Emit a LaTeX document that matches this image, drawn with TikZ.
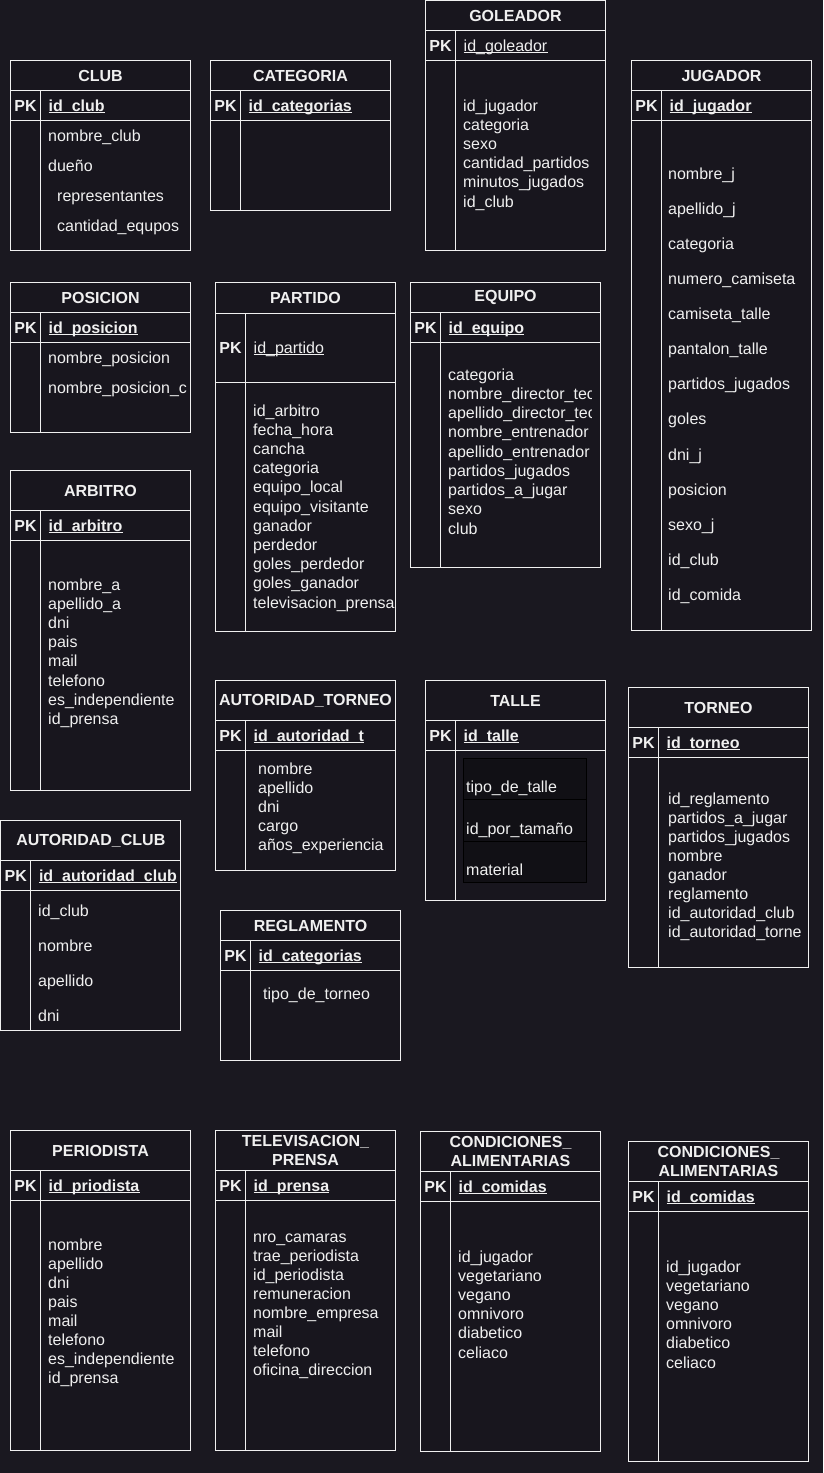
\documentclass[tikz,border=0pt]{standalone}
\usepackage{fontspec}
\setmainfont{Liberation Sans}
\definecolor{bgc}{HTML}{1A1820}
\definecolor{tblc}{HTML}{18161E}
\definecolor{lnc}{HTML}{F0F0F0}
\definecolor{txc}{HTML}{F0F0F0}
\definecolor{innc}{HTML}{111015}
\newcommand{\dfs}{\fontsize{16}{19.5}\selectfont}
\tikzset{
  ln/.style={draw=lnc, line width=1pt},
  tbl/.style={fill=tblc, inner sep=0pt, outer sep=0pt, draw=none},
  ttl/.style={font=\dfs\bfseries, text=txc, inner sep=0pt, align=center},
  fld/.style={anchor=west, inner sep=0pt, text height=12.5pt, text depth=1.5pt, text=txc, font=\dfs},
  pkl/.style={fld, anchor=center, font=\dfs\bfseries},
  pkn/.style={fld, font=\dfs\bfseries},
  innbox/.style={fill=innc, draw=black, line width=1pt}
}
\newcommand{\ertab}[9]{%
  \node[tbl, minimum width=#4pt, minimum height=#7pt, anchor=north west] (#1) at (#2,#3) {};
  \draw[ln] (#2,#3+#5) -- ++(#4,0);
  \draw[ln] (#2,#3+#5+#6) -- ++(#4,0);
  \draw[ln] (#2+30,#3+#5) -- (#2+30,#3+#7);
  \draw[ln] (#1.north west) rectangle (#1.south east);
  \node[ttl] (#1-t) at (#2+#4/2,#3+#5/2) {#8};
  \node[pkl] (#1-pk) at (#2+15,#3+#5+#6/2) {PK};
  \node[pkn] (#1-id) at (#2+38,#3+#5+#6/2) {#9};
  \draw[draw=txc, line width=0.9pt] ([yshift=0.4pt]#1-id.south west) -- ([yshift=0.4pt]#1-id.south east);
}
\newcommand{\flds}[5]{%
  \foreach \mytxt [count=\myi from 0] in {#5} {\node[fld] (#1-\myi) at (#2,{#3+\myi*#4}) {\mytxt};}
}
\begin{document}
\begin{tikzpicture}[x=1pt, y=-1pt]
\fill[bgc] (0,0) rectangle (823,1473);
\useasboundingbox (0,0) rectangle (823,1473);

% CLUB
\ertab{club}{10.5}{60.5}{180}{30}{30}{190}{CLUB}{id\_club}
\node[fld] (club-f0) at (48,135.5) {nombre\_club};
\node[fld] (club-f1) at (48,165.5) {dueño};
\node[fld] (club-f2) at (57,195.5) {representantes};
\node[fld] (club-f3) at (57,225.5) {cantidad\_equpos};

% CATEGORIA
\ertab{cat}{210.5}{60.5}{180}{30}{30}{150}{CATEGORIA}{id\_categorias}

% GOLEADOR
\ertab{gol}{425.5}{0.5}{180}{30}{30}{249.5}{GOLEADOR}{\mdseries id\_goleador}
\flds{gol}{463}{106}{19.1}{id\_jugador,categoria,sexo,cantidad\_partidos,minutos\_jugados,id\_club}

% JUGADOR
\ertab{jug}{631.5}{60.5}{180}{30}{30}{570}{JUGADOR}{id\_jugador}
\flds{jug}{668}{173.5}{35.13}{nombre\_j,apellido\_j,categoria,numero\_camiseta,camiseta\_talle,pantalon\_talle,partidos\_jugados,goles,dni\_j,posicion,sexo\_j,id\_club,id\_comida}

% POSICION
\ertab{pos}{10.5}{282.5}{180}{30}{30}{150}{POSICION}{id\_posicion}
\begin{scope}
\clip (10,342) rectangle (188,432);
\flds{pos}{48}{357.5}{30}{nombre\_posicion,nombre\_posicion\_c}
\end{scope}

% PARTIDO
\ertab{par}{215.5}{282.5}{180}{31}{69}{349}{PARTIDO}{\mdseries id\_partido}
\flds{par}{253}{410.5}{19.2}{id\_arbitro,fecha\_hora,cancha,categoria,equipo\_local,equipo\_visitante,ganador,perdedor,goles\_perdedor,goles\_ganador,televisacion\_prensa}

% EQUIPO
\ertab{eq}{410.5}{282.5}{190}{30}{30}{285}{EQUIPO}{id\_equipo}
\begin{scope}
\clip (410,342) rectangle (591,567);
\flds{eq}{448}{374.5}{19.25}{categoria,nombre\_director\_tecnico,apellido\_director\_tecnico,nombre\_entrenador,apellido\_entrenador,partidos\_jugados,partidos\_a\_jugar,sexo,club}
\end{scope}

% ARBITRO
\ertab{arb}{10.5}{470.5}{180}{40}{30}{320}{ARBITRO}{id\_arbitro}
\flds{arb}{48}{584.5}{19.2}{nombre\_a,apellido\_a,dni,pais,mail,telefono,es\_independiente,id\_prensa}

% AUTORIDAD_TORNEO
\ertab{at}{215.5}{680.5}{180}{40}{30}{190}{AUTORIDAD\_TORNEO}{id\_autoridad\_t}
\flds{at}{258}{768.5}{19}{nombre,apellido,dni,cargo,años\_experiencia}

% AUTORIDAD_CLUB
\ertab{ac}{0.8}{820.5}{180}{40}{30}{210}{AUTORIDAD\_CLUB}{id\_autoridad\_club}
\flds{ac}{38}{910.5}{35.15}{id\_club,nombre,apellido,dni}

% REGLAMENTO
\ertab{reg}{220.5}{910.5}{180}{30}{30}{150}{REGLAMENTO}{id\_categorias}
\node[fld] (reg-f0) at (263,993.5) {tipo\_de\_torneo};

% TALLE
\ertab{tal}{425.5}{680.5}{180}{40}{30}{220}{TALLE}{id\_talle}
\node[innbox, minimum width=123pt, minimum height=41.5pt, anchor=north west, inner sep=0pt] (tal-b0) at (462.5,757.8) {};
\node[innbox, minimum width=123pt, minimum height=42pt, anchor=north west, inner sep=0pt] (tal-b1) at (462.5,799.3) {};
\node[innbox, minimum width=123pt, minimum height=41pt, anchor=north west, inner sep=0pt] (tal-b2) at (462.5,841.3) {};
\node[fld] (tal-f0) at (466,786.5) {tipo\_de\_talle};
\node[fld] (tal-f1) at (466,828.5) {id\_por\_tamaño};
\node[fld] (tal-f2) at (466,870) {material};

% TORNEO
\ertab{tor}{628.5}{687.5}{180}{40}{30}{280}{TORNEO}{id\_torneo}
\begin{scope}
\clip (628,757) rectangle (801,967);
\flds{tor}{668}{798.5}{19.1}{id\_reglamento,partidos\_a\_jugar,partidos\_jugados,nombre,ganador,reglamento,id\_autoridad\_club,id\_autoridad\_torneo}
\end{scope}

% PERIODISTA
\ertab{per}{10.5}{1130.5}{180}{40}{30}{320}{PERIODISTA}{id\_priodista}
\flds{per}{48}{1244.5}{19.14}{nombre,apellido,dni,pais,mail,telefono,es\_independiente,id\_prensa}

% TELEVISACION_PRENSA
\ertab{tv}{215.5}{1130.5}{180}{40}{30}{320}{TELEVISACION\_\\PRENSA}{id\_prensa}
\flds{tv}{253}{1236.5}{19.1}{nro\_camaras,trae\_periodista,id\_periodista,remuneracion,nombre\_empresa,mail,telefono,oficina\_direccion}

% CONDICIONES_ALIMENTARIAS 1
\ertab{ca}{420.5}{1131.5}{180}{40}{30}{320}{CONDICIONES\_\\ALIMENTARIAS}{id\_comidas}
\flds{ca}{458}{1256.5}{19.2}{id\_jugador,vegetariano,vegano,omnivoro,diabetico,celiaco}

% CONDICIONES_ALIMENTARIAS 2
\ertab{cb}{628.5}{1141.5}{180}{40}{30}{320}{CONDICIONES\_\\ALIMENTARIAS}{id\_comidas}
\flds{cb}{666}{1266.5}{19.2}{id\_jugador,vegetariano,vegano,omnivoro,diabetico,celiaco}
\end{tikzpicture}
\end{document}
